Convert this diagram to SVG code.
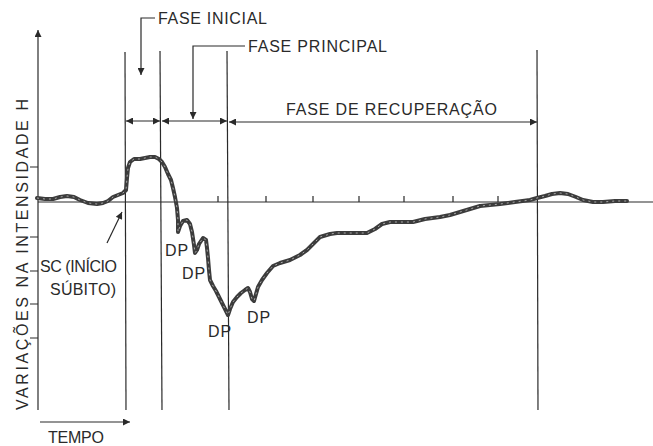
<svg xmlns="http://www.w3.org/2000/svg" width="653" height="446" viewBox="0 0 653 446">
<style>
.ln{stroke:#2a2a2a;stroke-width:1.2;fill:none}
.t{font-family:"Liberation Sans","DejaVu Sans",sans-serif;font-size:16px;fill:#2a2a2a;letter-spacing:1px}
.cv{fill:none;stroke:#3c3c3c;stroke-width:4;stroke-linejoin:round;stroke-linecap:round}
.cvi{fill:none;stroke:#a8a8a8;stroke-width:1;stroke-dasharray:2 4;stroke-linejoin:round}
</style>
<defs>
<marker id="ah" viewBox="0 0 10 10" refX="10" refY="5" markerWidth="9" markerHeight="7" markerUnits="userSpaceOnUse" orient="auto-start-reverse">
<path d="M0,0 L10,5 L0,10 z" fill="#2a2a2a"/>
</marker>
</defs>
<rect width="653" height="446" fill="#ffffff"/>
<g id="axes">
<line class="ln" x1="38" y1="410" x2="38" y2="30" marker-end="url(#ah)"/>
<line class="ln" x1="38" y1="202" x2="653" y2="202"/>
<path class="ln" d="M30,167H38M30,237H38M30,271H38M30,304H38M30,338H38"/>
<path class="ln" d="M218,196V202M266,196V202M313,196V202M359,196V202M404,196V202M453,196V202M498,196V202"/>
</g>
<g id="phase-lines">
<line class="ln" x1="125" y1="52" x2="126" y2="410"/>
<line class="ln" x1="160" y1="51" x2="162" y2="410"/>
<line class="ln" x1="227" y1="51" x2="229" y2="410"/>
<line class="ln" x1="537" y1="50" x2="538" y2="410"/>
</g>
<g id="connectors">
<line class="ln" x1="126" y1="121" x2="160" y2="121" marker-start="url(#ah)" marker-end="url(#ah)"/>
<line class="ln" x1="162" y1="121" x2="227" y2="121" marker-start="url(#ah)" marker-end="url(#ah)"/>
<line class="ln" x1="229" y1="122" x2="537" y2="122" marker-start="url(#ah)" marker-end="url(#ah)"/>
<path class="ln" d="M155,18H141V75" marker-end="url(#ah)"/>
<path class="ln" d="M245,46H193V119" marker-end="url(#ah)"/>
<line class="ln" x1="107" y1="243" x2="122" y2="212" marker-end="url(#ah)"/>
<line class="ln" x1="40" y1="422" x2="130" y2="422" marker-end="url(#ah)"/>
</g>
<g id="curve">
<polyline class="cv" points="37,198 45,199 53,199 60,197 67,196 74,197 80,200 88,203 97,204 103,203 108,201 113,197 118,195 123,193 126,190 127,178 128,168 130,162 134,159 140,159 145,158 150,157 155,157 159,159 162,162 165,167 168,174 171,180 173,188 175,197 177,208 178,220 178,232 180,226 183,221 187,220 190,224 192,232 194,245 195,253 197,250 199,244 203,238 206,240 207,248 208,258 209,270 210,280 213,286 216,291 219,297 222,303 225,309 228,315 230,309 233,302 237,297 241,293 245,290 248,288 250,292 252,299 254,301 256,294 258,287 262,280 267,273 273,266 280,263 290,260 300,255 307,250 314,243 320,237 330,234 337,233 350,233 367,233 375,229 382,224 390,222 405,222 413,222 425,219 440,217 450,215 460,212 470,209 480,206 490,205 500,204 515,202 530,200 537,198 545,196 552,194 560,193 568,194 576,197 583,200 593,202 603,202 615,201 627,201"/>
<polyline class="cvi" points="37,198 45,199 53,199 60,197 67,196 74,197 80,200 88,203 97,204 103,203 108,201 113,197 118,195 123,193 126,190 127,178 128,168 130,162 134,159 140,159 145,158 150,157 155,157 159,159 162,162 165,167 168,174 171,180 173,188 175,197 177,208 178,220 178,232 180,226 183,221 187,220 190,224 192,232 194,245 195,253 197,250 199,244 203,238 206,240 207,248 208,258 209,270 210,280 213,286 216,291 219,297 222,303 225,309 228,315 230,309 233,302 237,297 241,293 245,290 248,288 250,292 252,299 254,301 256,294 258,287 262,280 267,273 273,266 280,263 290,260 300,255 307,250 314,243 320,237 330,234 337,233 350,233 367,233 375,229 382,224 390,222 405,222 413,222 425,219 440,217 450,215 460,212 470,209 480,206 490,205 500,204 515,202 530,200 537,198 545,196 552,194 560,193 568,194 576,197 583,200 593,202 603,202 615,201 627,201"/>
</g>
<g id="labels">
<text class="t" x="158" y="24" textLength="110" lengthAdjust="spacing">FASE INICIAL</text>
<text class="t" x="248" y="52" textLength="140" lengthAdjust="spacing">FASE PRINCIPAL</text>
<text class="t" x="286" y="115" textLength="212" lengthAdjust="spacing">FASE DE RECUPERAÇÃO</text>
<text class="t" transform="translate(28,410) rotate(-90)" textLength="312" lengthAdjust="spacing">VARIAÇÕES NA INTENSIDADE H</text>
<text class="t" x="40" y="272" textLength="78" lengthAdjust="spacing">SC (INÍCIO</text>
<text class="t" x="50" y="295" textLength="67" lengthAdjust="spacing">SÚBITO)</text>
<text class="t" x="48" y="443" textLength="57" lengthAdjust="spacing">TEMPO</text>
<text class="t" x="165" y="256">DP</text>
<text class="t" x="182" y="279">DP</text>
<text class="t" x="208" y="337">DP</text>
<text class="t" x="247" y="323">DP</text>
</g>
</svg>
